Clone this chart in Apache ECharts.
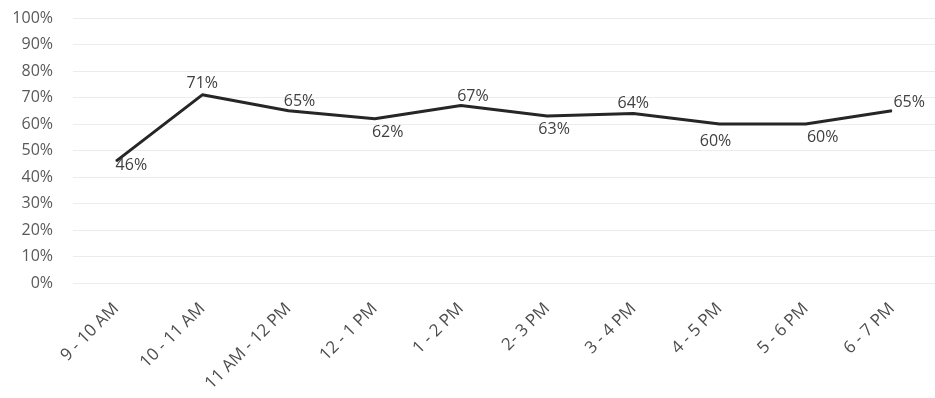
<!DOCTYPE html>
<html><head><meta charset="utf-8">
<script src="https://cdn.jsdelivr.net/npm/echarts@6/dist/echarts.min.js"></script>
<style>html,body{margin:0;padding:0;background:#fff}#c{width:935px;height:398px}</style>
</head><body><div id="c"></div>
<script>
const categories = ['9 - 10 AM','10 - 11 AM','11 AM - 12 PM','12 - 1 PM','1 - 2 PM','2- 3 PM','3 - 4 PM','4 - 5 PM','5 - 6 PM','6 - 7 PM'];
const values = [46, 71, 65, 62, 67, 63, 64, 60, 60, 65];
const labelPlacement = [
  {position:'right', offset:[-6,4]},
  {position:'top', offset:[0,2]},
  {position:'top', offset:[11,4]},
  {position:'bottom', offset:[13,0]},
  {position:'top', offset:[12,4]},
  {position:'bottom', offset:[7,0]},
  {position:'top', offset:[0,4]},
  {position:'bottom', offset:[-4,4]},
  {position:'bottom', offset:[17,0]},
  {position:'right', offset:[-4,-8]}
];
const chart = echarts.init(document.getElementById('c'));
chart.setOption({
  animation:false,
  grid:{left:73,right:0,top:18,bottom:115,containLabel:false},
  xAxis:{type:'category',data:categories,boundaryGap:true,
    axisLine:{show:false},axisTick:{show:false},
    axisLabel:{rotate:45,interval:0,color:'#4d4d4d',fontSize:17,fontFamily:'Open Sans',margin:23}},
  yAxis:{type:'value',min:0,max:100,interval:10,
    axisLine:{show:false},axisTick:{show:false},
    axisLabel:{formatter:'{value}%',color:'#595959',fontSize:16,fontFamily:'Open Sans',margin:20},
    splitLine:{lineStyle:{color:'#ececec',width:1}}},
  series:[{type:'line',data:values.map((v,i)=>({value:v,label:labelPlacement[i]})),
    symbol:'circle',symbolSize:1,showSymbol:true,itemStyle:{color:'#262626'},
    lineStyle:{color:'#262626',width:3},
    label:{show:true,formatter:'{c}%',color:'#404040',fontSize:16,fontFamily:'Open Sans'}}]
});
</script></body></html>
